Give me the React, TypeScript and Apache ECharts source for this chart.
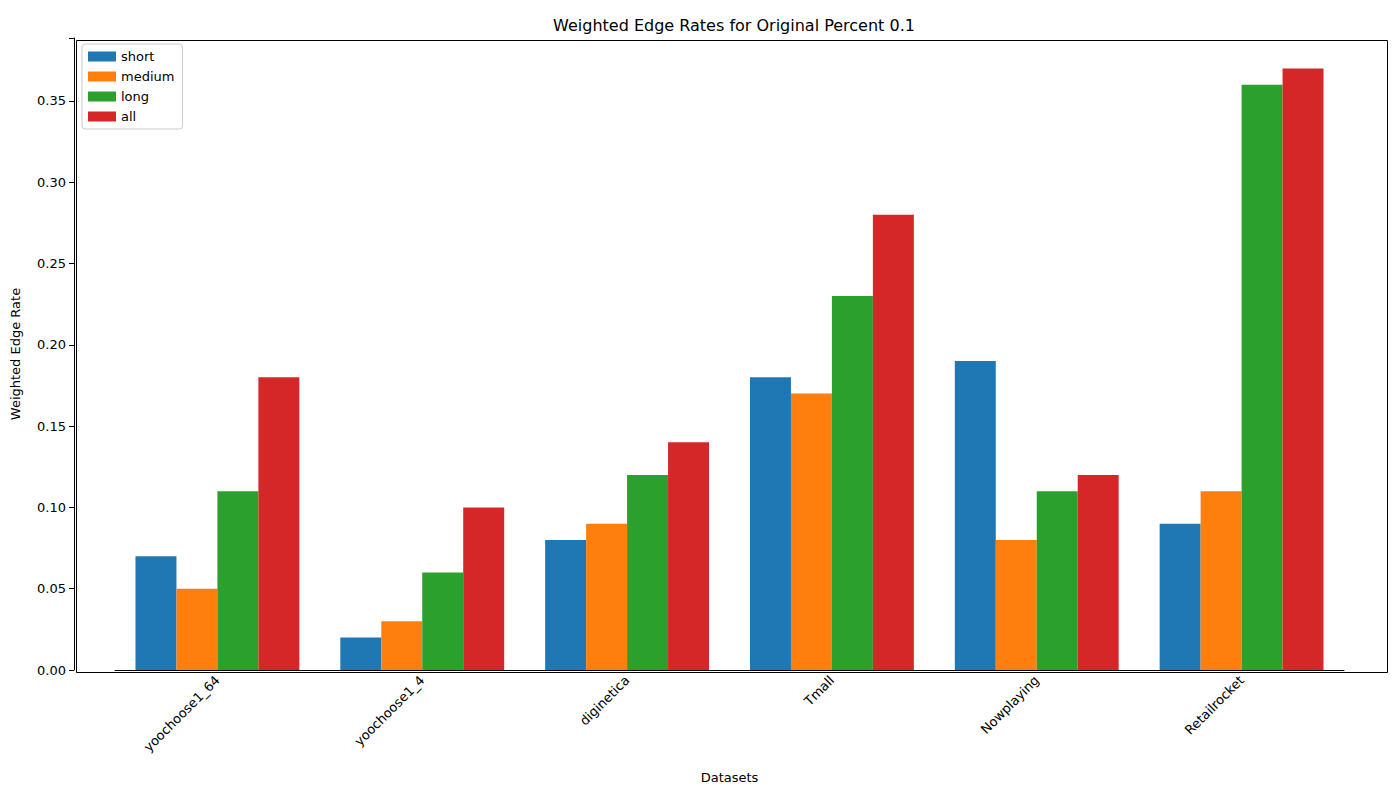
import React, { useEffect, useRef } from "react";
import * as echarts from "echarts";

const categories = ["yoochoose1_64", "yoochoose1_4", "diginetica", "Tmall", "Nowplaying", "Retailrocket"];
const shortVals = [0.07, 0.02, 0.08, 0.18, 0.19, 0.09];
const mediumVals = [0.05, 0.03, 0.09, 0.17, 0.08, 0.11];
const longVals = [0.11, 0.06, 0.12, 0.23, 0.11, 0.36];
const allVals = [0.18, 0.10, 0.14, 0.28, 0.12, 0.37];
const seriesNames = ["short", "medium", "long", "all"];
const colors = ["#1f77b4", "#ff7f0e", "#2ca02c", "#d62728"];

const F = "DejaVu Sans";

export default function App() {
  const ref = useRef<HTMLDivElement>(null);
  useEffect(() => {
    const chart = echarts.init(ref.current!, null, { renderer: "svg" });
    const data = [shortVals, mediumVals, longVals, allVals];
    chart.setOption({
      animation: false,
      color: colors,
      textStyle: { fontFamily: F },
      title: {
        text: "Weighted Edge Rates for Original Percent 0.1",
        left: 729, top: 12, textAlign: "center",
        textStyle: { fontFamily: F, fontSize: 16, fontWeight: "normal", color: "#000" },
      },
      legend: {
        orient: "vertical", left: 82, top: 44, padding: [6, 8, 6, 6],
        itemWidth: 28, itemHeight: 10, itemGap: 7,
        borderColor: "#ccc", borderWidth: 1, borderRadius: 3,
        icon: "rect",
        textStyle: { fontFamily: F, fontSize: 13, color: "#000" },
        data: seriesNames,
      },
      grid: { left: 115, right: 56, top: 38, bottom: 130 },
      xAxis: {
        type: "category", data: categories,
        axisLine: { lineStyle: { color: "#000" } },
        axisTick: { alignWithLabel: true, length: 5, lineStyle: { color: "#000" } },
        axisLabel: { rotate: 45, fontSize: 13, color: "#000", fontFamily: F, margin: 8 },
        name: "Datasets", nameLocation: "middle", nameGap: 101,
        nameTextStyle: { fontSize: 13, color: "#000", fontFamily: F },
      },
      yAxis: {
        type: "value", min: 0, max: 0.3887, interval: 0.05, offset: 41,
        splitLine: { show: false },
        axisLine: { show: true, lineStyle: { color: "#000" } },
        axisTick: { show: true, length: 5, lineStyle: { color: "#000" } },
        axisLabel: {
          fontSize: 13, color: "#000", fontFamily: F,
          formatter: (v: number) => (v > 0.386 ? "" : v.toFixed(2)),
        },
        name: "Weighted Edge Rate", nameLocation: "middle", nameGap: 52,
        nameTextStyle: { fontSize: 13, color: "#000", fontFamily: F },
      },
      graphic: [
        { type: "rect", left: 74, top: 38, shape: { width: 1311, height: 632 }, style: { fill: "none", stroke: "#000", lineWidth: 1 }, silent: true, z: 10 },
      ],
      series: seriesNames.map((n, i) => ({
        name: n, type: "bar", data: data[i], barGap: "0%", barCategoryGap: "20%",
      })),
    });
    return () => chart.dispose();
  }, []);
  return <div ref={ref} style={{ position: "fixed", left: 0, top: 0, width: 1400, height: 800, background: "#fff" }} />;
}
